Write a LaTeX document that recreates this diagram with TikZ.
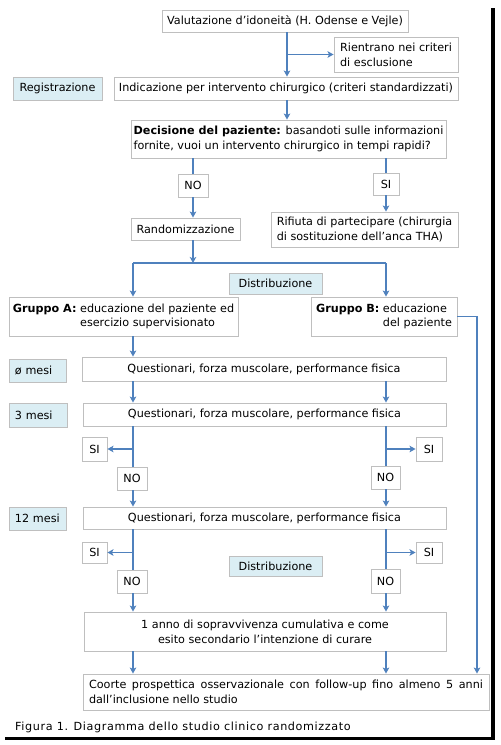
\documentclass[tikz,border=0pt]{standalone}
\usepackage{fontspec}
\setmainfont{DejaVu Sans}
\usetikzlibrary{arrows.meta}
\definecolor{lnblue}{HTML}{4F81BD}
\definecolor{bxgray}{HTML}{BFBFBF}
\definecolor{lblue}{HTML}{DBEEF4}
\begin{document}
\begin{tikzpicture}[x=1pt,y=-1pt,
  font=\fontsize{11.2}{14.8}\selectfont,
  bx/.style={draw=bxgray,line width=0.9pt,inner xsep=2pt,inner ysep=0pt,align=center},
  lb/.style={bx,fill=lblue},
  ln/.style={draw=lnblue,line width=1.1pt},
  ar/.style={ln,-{Stealth[length=6pt,width=6.5pt,inset=1.5pt]}}]
\useasboundingbox (0,0) rectangle (501,745);
% shadow frame
\fill[black] (491,8) rectangle (495,740);
\fill[black] (5,737) rectangle (495,740);
% columns
\coordinate (cM) at (287,0);
\coordinate (cL) at (133,0);
\coordinate (cR) at (386,0);
\coordinate (cRR) at (477,0);
% nodes
\node[bx,minimum width=246pt,minimum height=22pt] (val) at (285,21) {Valutazione d’idoneità (H. Odense e Vejle)};
\node[bx,minimum width=124pt,minimum height=35pt,align=left] (rien) at (396,54.5) {Rientrano nei criteri\\di esclusione};
\node[lb,minimum width=89pt,minimum height=23pt] (reg) at (57.5,88.5) {Registrazione};
\node[bx,minimum width=344pt,minimum height=23pt] (ind) at (286,88.5) {Indicazione per intervento chirurgico (criteri standardizzati)};
\node[bx,minimum width=315pt,minimum height=38pt,align=left] (dec) at (288.5,139) {\textbf{Decisione del paziente:} basandoti sulle informazioni\\fornite, vuoi un intervento chirurgico in tempi rapidi?};
\node[bx,minimum width=30pt,minimum height=23pt] (no1) at (193,185.5) {NO};
\node[bx,minimum width=26pt,minimum height=22pt] (si1) at (386,184) {SI};
\node[bx,minimum width=109pt,minimum height=22pt] (rand) at (185.5,229) {Randomizzazione};
\node[bx,minimum width=187pt,minimum height=35pt,align=left] (rif) at (364.5,229.5) {Rifiuta di partecipare (chirurgia\\di sostituzione dell’anca THA)};
\node[lb,minimum width=93pt,minimum height=21pt] (dist1) at (275.5,283.5) {Distribuzione};
\node[bx,minimum width=229pt,minimum height=39pt,align=left] (grA) at (123.5,316.5) {\begin{tabular}{@{}l@{ }l@{}}\textbf{Gruppo A:} & educazione del paziente ed\\ & esercizio supervisionato\end{tabular}};
\node[bx,minimum width=146pt,minimum height=39pt,align=left] (grB) at (384,316.5) {\begin{tabular}{@{}l@{ }l@{}}\textbf{Gruppo B:} & educazione\\ & del paziente\end{tabular}};
\node[lb,minimum width=57pt,minimum height=23pt,text width=45pt,inner xsep=6pt,align=left] (m0) at (37.5,370.5) {ø mesi};
\node[bx,minimum width=364pt,minimum height=24pt] (q0) at (264,369) {Questionari, forza muscolare, performance fisica};
\node[lb,minimum width=58pt,minimum height=24pt,text width=46pt,inner xsep=6pt,align=left] (m3) at (38,415) {3 mesi};
\node[bx,minimum width=363pt,minimum height=23pt] (q3) at (264.5,414.5) {Questionari, forza muscolare, performance fisica};
\node[bx,minimum width=25pt,minimum height=24pt] (si3L) at (94.5,449) {SI};
\node[bx,minimum width=30pt,minimum height=23pt] (no3L) at (132,478.5) {NO};
\node[bx,minimum width=26pt,minimum height=24pt] (si3R) at (429,449) {SI};
\node[bx,minimum width=29pt,minimum height=23pt] (no3R) at (385.5,477.5) {NO};
\node[lb,minimum width=57pt,minimum height=23pt,text width=45pt,inner xsep=6pt,align=left] (m12) at (37.5,518.5) {12 mesi};
\node[bx,minimum width=363pt,minimum height=22pt] (q12) at (264.5,518) {Questionari, forza muscolare, performance fisica};
\node[bx,minimum width=25pt,minimum height=21pt] (si12L) at (94.5,552.5) {SI};
\node[bx,minimum width=26pt,minimum height=21pt] (si12R) at (429,552.5) {SI};
\node[lb,minimum width=93pt,minimum height=20pt] (dist2) at (275.5,566) {Distribuzione};
\node[bx,minimum width=30pt,minimum height=23pt] (no12L) at (132,581.5) {NO};
\node[bx,minimum width=29pt,minimum height=24pt] (no12R) at (385.5,581) {NO};
\node[bx,minimum width=362pt,minimum height=39pt] (out) at (265,631.5) {1 anno di sopravvivenza cumulativa e come\\esito secondario l’intenzione di curare};
\node[bx,minimum width=406pt,minimum height=36pt,text width=394pt,inner xsep=6pt,align=justify] (fin) at (286,692) {Coorte prospettica osservazionale con follow-up fino almeno 5 anni dall’inclusione nello studio};
\node[anchor=west,inner sep=0pt,font=\fontsize{11.2}{14.8}\selectfont\addfontfeatures{LetterSpace=5.5}] (cap) at (15,727) {Figura 1. Diagramma dello studio clinico randomizzato};
% connectors
\draw[ar] (val.south -| cM) -- (ind.north -| cM);
\draw[ar] (rien.west -| cM) -- (rien.west);
\draw[ar] (ind.south -| cM) -- (dec.north -| cM);
\draw[ln] (dec.south -| no1.north) -- (no1.north);
\draw[ar] (no1.south) -- (rand.north -| no1.south);
\draw[ln] (dec.south -| si1.north) -- (si1.north);
\draw[ar] (si1.south) -- (rif.north -| si1.south);
\coordinate (jM) at (193,263);
\coordinate (jL) at (133,263);
\coordinate (jR) at (386,263);
\draw[ar] (rand.south -| jM) -- (jM);
\draw[ln] (jL) -- (jR);
\draw[ar] (jL) -- (grA.north -| jL);
\draw[ar] (jR) -- (grB.north -| jR);
\draw[ar] (grB.east) -| (fin.north -| cRR);
\draw[ar] (grA.south -| cL) -- (q0.north -| cL);
\draw[ar] (q0.south -| cL) -- (q3.north -| cL);
\draw[ar] (q0.south -| cR) -- (q3.north -| cR);
\draw[ln] (q3.south -| cL) -- (no3L.north -| cL);
\draw[ln] (q3.south -| cR) -- (no3R.north -| cR);
\draw[ar] (si3L.east -| cL) -- (si3L.east);
\draw[ar] (si3R.west -| cR) -- (si3R.west);
\draw[ar] (no3L.south -| cL) -- (q12.north -| cL);
\draw[ar] (no3R.south -| cR) -- (q12.north -| cR);
\draw[ln] (q12.south -| cL) -- (no12L.north -| cL);
\draw[ln] (q12.south -| cR) -- (no12R.north -| cR);
\draw[ar] (si12L.east -| cL) -- (si12L.east);
\draw[ar] (si12R.west -| cR) -- (si12R.west);
\draw[ar] (no12L.south -| cL) -- (out.north -| cL);
\draw[ar] (no12R.south -| cR) -- (out.north -| cR);
\draw[ar] (out.south -| cL) -- (fin.north -| cL);
\draw[ar] (out.south -| cR) -- (fin.north -| cR);
\end{tikzpicture}
\end{document}
